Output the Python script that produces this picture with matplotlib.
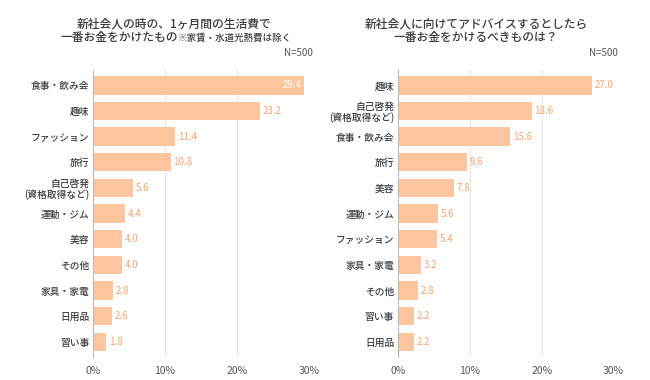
import matplotlib
matplotlib.use("Agg")
import matplotlib.pyplot as plt

plt.rcParams['font.family'] = ['Noto Sans CJK JP', 'DejaVu Sans']

# 左: 新社会人の時の生活費
left_labels = ['食事・飲み会', '趣味', 'ファッション', '旅行', '自己啓発\n(資格取得など)',
               '運動・ジム', '美容', 'その他', '家具・家電', '日用品', '習い事']
left_values = [29.4, 23.2, 11.4, 10.8, 5.6, 4.4, 4.0, 4.0, 2.8, 2.6, 1.8]

# 右: アドバイスするとしたら
right_labels = ['趣味', '自己啓発\n(資格取得など)', '食事・飲み会', '旅行', '美容', '運動・ジム',
                'ファッション', '家具・家電', 'その他', '習い事', '日用品']
right_values = [27.0, 18.6, 15.6, 9.6, 7.8, 5.6, 5.4, 3.2, 2.8, 2.2, 2.2]

xticks = [0, 10, 20, 30]

bar_color = '#FFC59E'
val_color = '#F7A574'
text_color = '#3C3C3C'

fig = plt.figure(figsize=(6.5, 3.8), dpi=100)


def draw_panel(ax, labels, values):
    y = list(range(len(labels)))
    ax.barh(y, values, height=0.72, color=bar_color, zorder=2)
    ax.set_ylim(len(labels) - 0.4, -0.6)
    ax.set_xlim(0, 30)
    ax.set_xticks(xticks)
    ax.set_xticklabels([f'{t}%' for t in xticks], fontsize=7.5, color='#555555')
    ax.set_yticks(y)
    ax.set_yticklabels(labels, fontsize=7, color=text_color, linespacing=1.1,
                       fontweight='medium')
    ax.tick_params(length=0, pad=2.5)
    ax.tick_params(axis='x', pad=6)
    ax.grid(axis='x', color='#E6E6E6', linewidth=0.8, zorder=0)
    for s in ['top', 'right', 'bottom']:
        ax.spines[s].set_visible(False)
    ax.spines['left'].set_color('#BBBBBB')
    ax.spines['left'].set_linewidth(0.8)
    for yi, v in zip(y, values):
        if v > 28:
            ax.text(v - 0.4, yi, f'{v:.1f}', ha='right', va='center',
                    fontsize=7, color='white', zorder=3)
        else:
            ax.text(v + 0.4, yi, f'{v:.1f}', ha='left', va='center',
                    fontsize=7, color=val_color, zorder=3)


ax1 = fig.add_axes([0.143, 0.06, 0.332, 0.756])
draw_panel(ax1, left_labels, left_values)
ax2 = fig.add_axes([0.612, 0.06, 0.332, 0.756])
draw_panel(ax2, right_labels, right_values)

# タイトル
fig.text(174 / 650, 1 - 24 / 380, '新社会人の時の、1ヶ月間の生活費で', ha='center', va='center',
         fontsize=8.5, color=text_color, fontweight='medium')
fig.text(178 / 650, 1 - 37 / 380, '一番お金をかけたもの', ha='right', va='center',
         fontsize=8.5, color=text_color, fontweight='medium')
fig.text(178 / 650, 1 - 37.5 / 380, '※家賃・水道光熱費は除く', ha='left', va='center',
         fontsize=6.8, color=text_color, fontweight='medium')
fig.text(313 / 650, 1 - 53 / 380, 'N=500', ha='right', va='center', fontsize=7, color='#555555')

fig.text(476 / 650, 1 - 24 / 380, '新社会人に向けてアドバイスするとしたら', ha='center', va='center',
         fontsize=8.5, color=text_color, fontweight='medium')
fig.text(476 / 650, 1 - 37 / 380, '一番お金をかけるべきものは？', ha='center', va='center',
         fontsize=8.5, color=text_color, fontweight='medium')
fig.text(618 / 650, 1 - 53 / 380, 'N=500', ha='right', va='center', fontsize=7, color='#555555')

fig.savefig('out.png', dpi=100, facecolor='white')
